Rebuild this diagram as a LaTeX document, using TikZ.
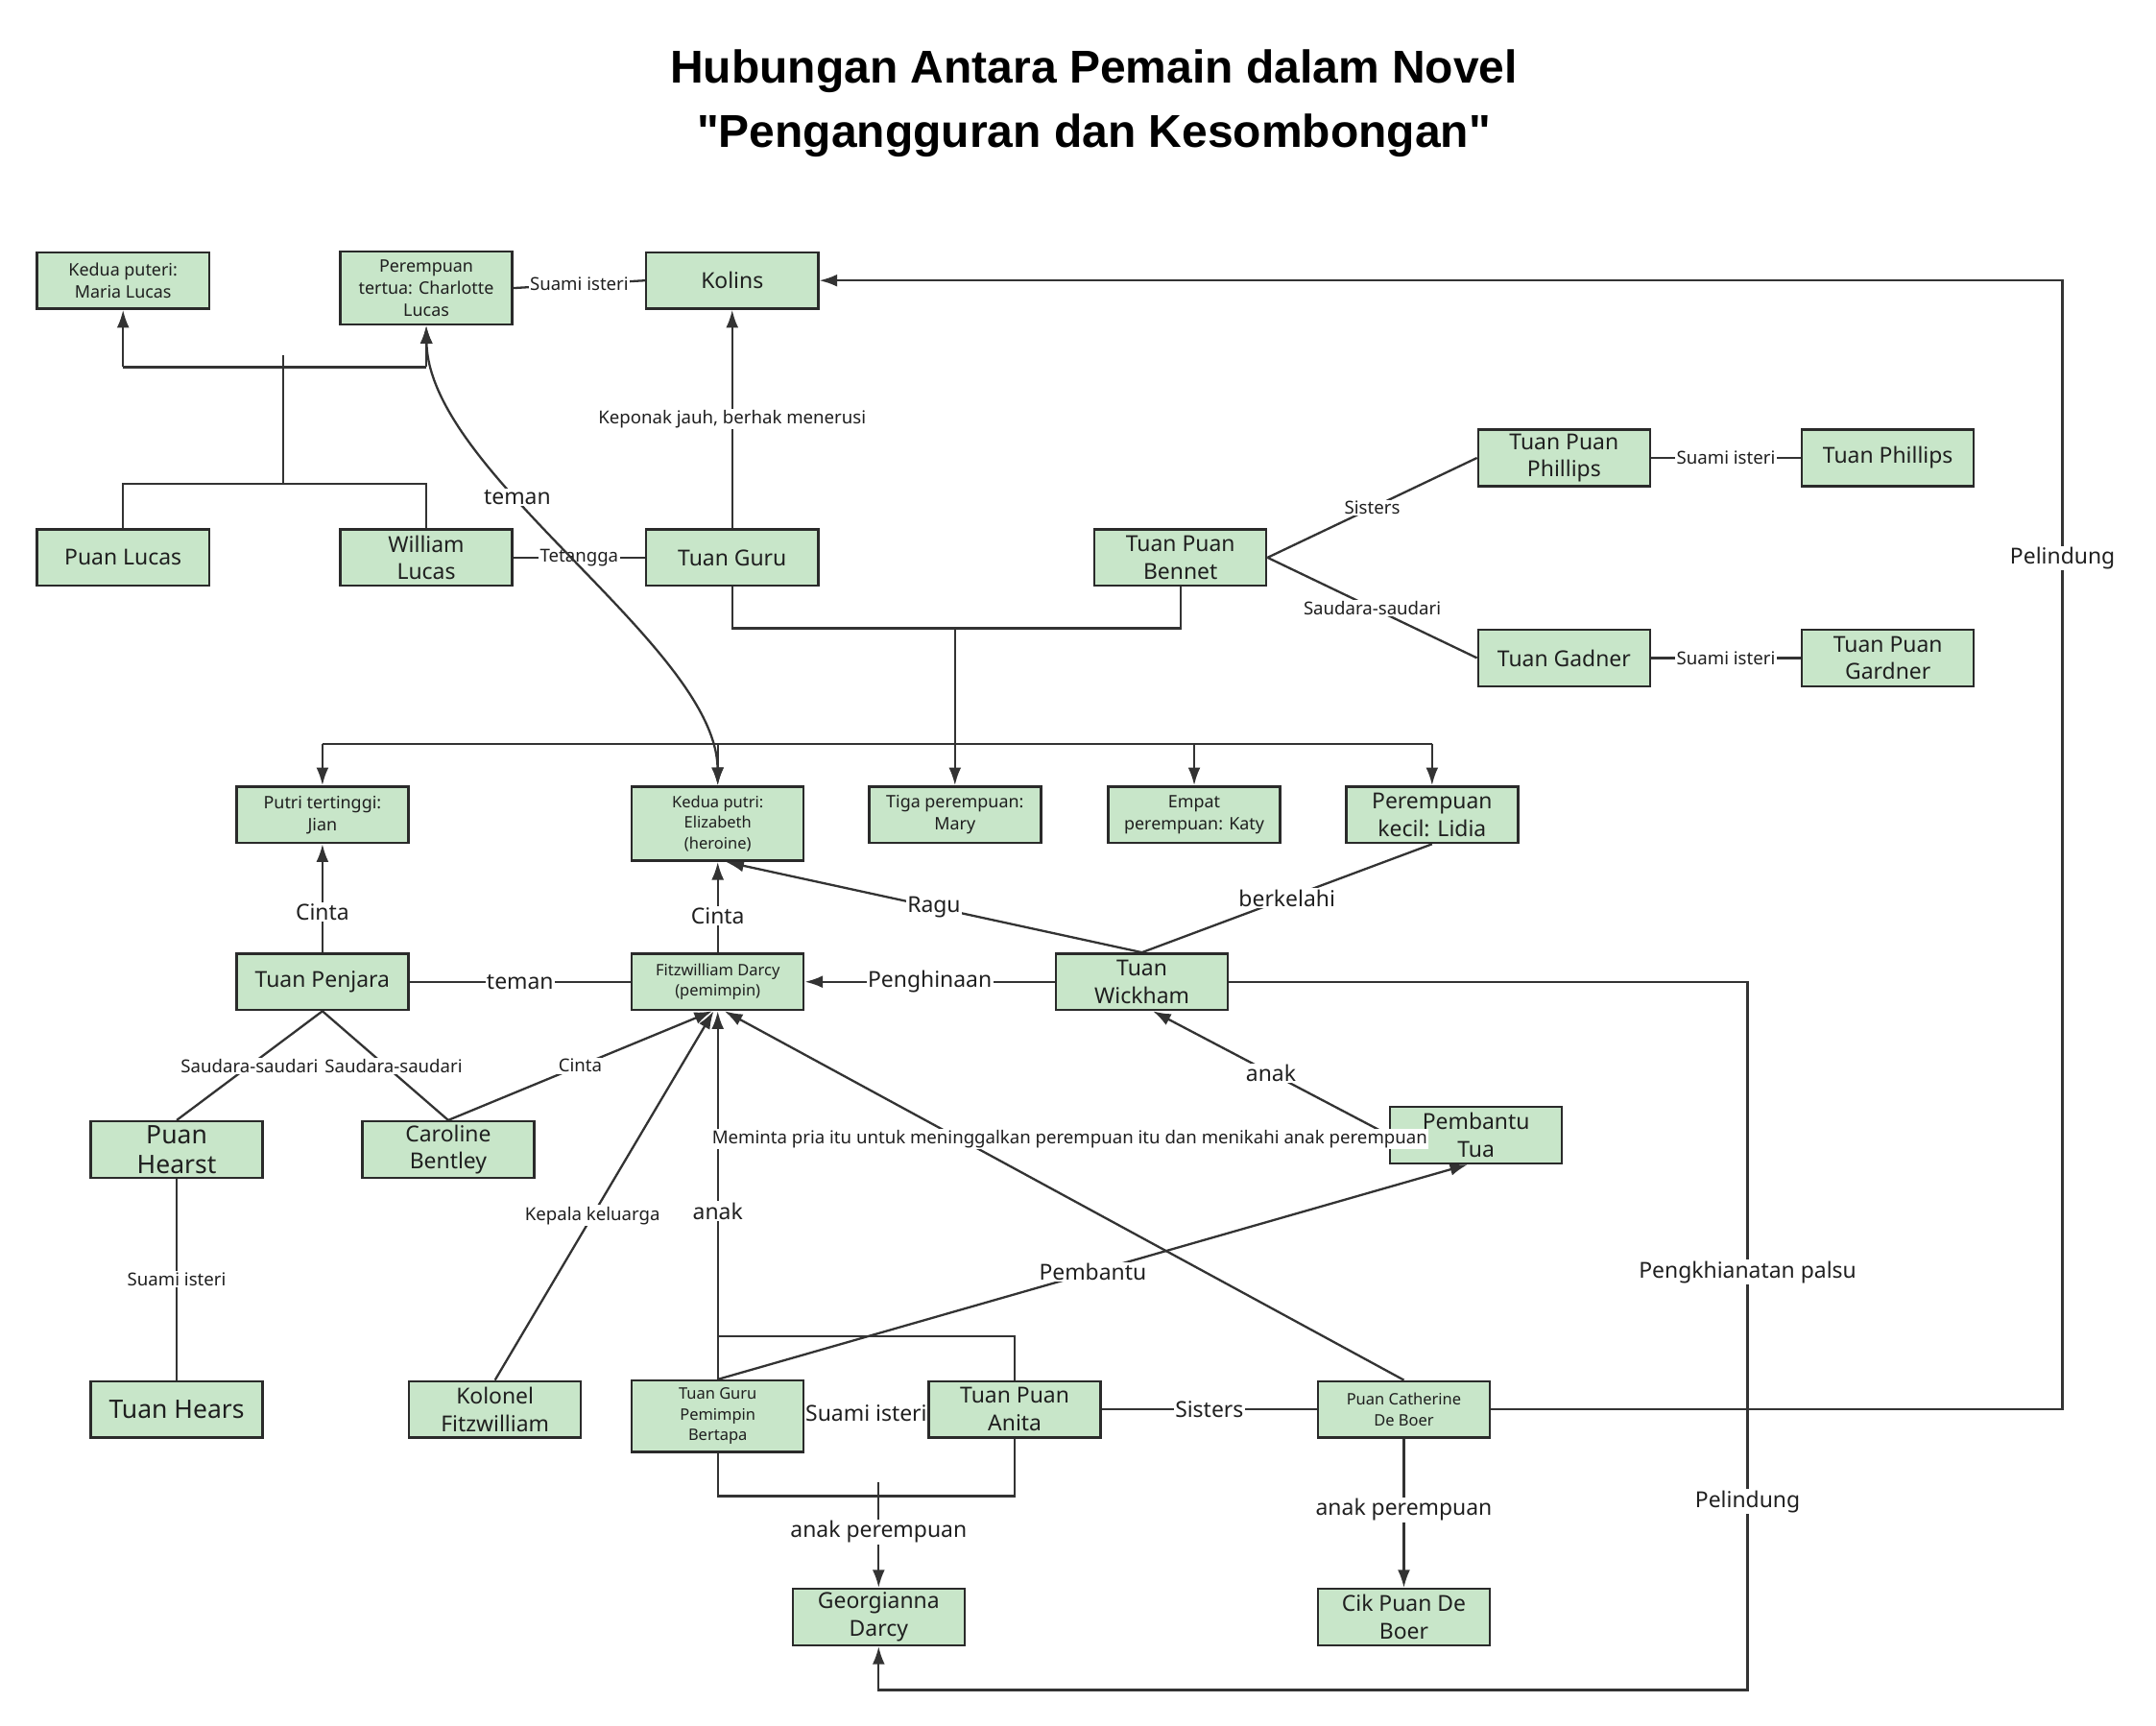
\documentclass[tikz,border=0pt]{standalone}
\usepackage{fontspec}
\setmainfont{Noto Sans}
\newfontfamily\titlefont{Liberation Sans}
\usetikzlibrary{arrows.meta}
\pgfdeclarelayer{back}
\pgfdeclarelayer{bg}
\pgfsetlayers{back,bg,main}
\definecolor{boxfill}{HTML}{C8E6C9}
\definecolor{boxline}{HTML}{2A2A2A}
\definecolor{linec}{HTML}{333333}
\definecolor{textc}{HTML}{1F1F1F}
\tikzset{
 box/.style={draw=boxline, fill=boxfill, line width=1.7pt, minimum width=125pt, minimum height=41pt, align=center, inner sep=1pt, text=textc},
 fs/.style={font=\fontsize{12.5}{16}\selectfont},
 fx/.style={font=\fontsize{11.5}{15}\selectfont},
 fm/.style={font=\fontsize{16}{20}\selectfont},
 fl/.style={font=\fontsize{18.5}{22}\selectfont},
 conn/.style={draw=linec, line width=1.6pt},
 arr/.style={conn, -{Latex[length=13pt,width=9pt]}},
 darr/.style={conn, {Latex[length=13pt,width=9pt]}-{Latex[length=13pt,width=9pt]}},
 lbs/.style={fill=white, inner sep=1pt, font=\fontsize{13}{16}\selectfont, text=textc},
 lbm/.style={fill=white, inner sep=1pt, font=\fontsize{16}{19}\selectfont, text=textc},
}
\begin{document}
\begin{tikzpicture}[x=1pt,y=-1pt]
\begin{pgfonlayer}{back}
\fill[white] (0,0) rectangle (1568,1255);
\end{pgfonlayer}
\useasboundingbox (0,0) rectangle (1568,1255);

\node[font=\titlefont\bfseries\fontsize{33.5}{47}\selectfont, align=center, text=black] (title) at (795.5,75) {Hubungan Antara Pemain dalam Novel\\\textquotedbl Pengangguran dan Kesombongan\textquotedbl};

% row 1
\node[box,fs] (maria) at (89.5,204) {Kedua puteri:\\Maria Lucas};
\node[box,fs,minimum height=53pt] (charlotte) at (310,209.5) {Perempuan\\tertua: Charlotte\\Lucas};
\node[box,fm] (kolins) at (532.5,204) {Kolins};
% row 2
\node[box,fm] (puanlucas) at (89.5,405.5) {Puan Lucas};
\node[box,fm] (william) at (310,405.5) {William\\Lucas};
\node[box,fm] (tuanguru) at (532.5,405.5) {Tuan Guru};
\node[box,fm] (bennet) at (858.5,405.5) {Tuan Puan\\Bennet};
\node[box,fm] (phillipstp) at (1137.5,333) {Tuan Puan\\Phillips};
\node[box,fm] (tuanphillips) at (1373,333) {Tuan Phillips};
\node[box,fm] (gadner) at (1137.5,478.5) {Tuan Gadner};
\node[box,fm] (gardnertp) at (1373,478.5) {Tuan Puan\\Gardner};
% daughters
\node[box,fs] (jian) at (234.5,592.5) {Putri tertinggi:\\Jian};
\node[box,fx,minimum height=54pt] (elizabeth) at (522,599) {Kedua putri:\\Elizabeth\\(heroine)};
\node[box,fs] (mary) at (694.5,592.5) {Tiga perempuan:\\Mary};
\node[box,fs] (katy) at (868.5,592.5) {Empat\\perempuan: Katy};
\node[box,fm] (lidia) at (1041.5,592.5) {Perempuan\\kecil: Lidia};
% darcy row
\node[box,fm] (penjara) at (234.5,714) {Tuan Penjara};
\node[box,fx] (darcy) at (522,714) {Fitzwilliam Darcy\\(pemimpin)};
\node[box,fm] (wickham) at (830.5,714) {Tuan\\Wickham};
% next row
\node[box,fl] (hearst) at (128.5,836) {Puan\\Hearst};
\node[box,fm] (caroline) at (326,836) {Caroline\\Bentley};
\node[box,fm] (pembantu) at (1073.5,825.5) {Pembantu\\Tua};
% lower row
\node[box,fl] (hears) at (128.5,1025) {Tuan Hears};
\node[box,fm] (kolonel) at (360,1025) {Kolonel\\Fitzwilliam};
\node[box,fx,minimum height=52pt] (gurupb) at (522,1030) {Tuan Guru\\Pemimpin\\Bertapa};
\node[box,fm] (anita) at (738,1025) {Tuan Puan\\Anita};
\node[box,fx] (catherine) at (1021,1025) {Puan Catherine\\De Boer};
% bottom
\node[box,fm] (georgianna) at (639,1176) {Georgianna\\Darcy};
\node[box,fm] (cikpuan) at (1021,1176) {Cik Puan De\\Boer};

\begin{pgfonlayer}{bg}
% Lucas family
\coordinate (lj) at (206,352);
\coordinate (ltop) at (206,258);
\coordinate (lh1) at (89.5,267);
\coordinate (lh2) at (310,267);
\draw[conn] (puanlucas.north) |- (lj) -| (william.north);
\draw[conn] (lj) -- (ltop);
\draw[conn] (lh1) -- (lh2);
\draw[arr] (lh1) -- (maria.south);
\draw[arr] (lh2) -- (charlotte.south);
\draw[conn] (charlotte.east) -- node[lbs] {Suami isteri} (kolins.west);
\draw[arr] (tuanguru.north) -- node[lbs] {Keponak jauh, berhak menerusi} (kolins.south);
\draw[conn] (william.east) -- node[lbs] {Tetangga} (tuanguru.west);
\draw[darr] (charlotte.south) .. controls (312,345) and (521,470) .. node[lbm, pos=0.37] {teman} (elizabeth.north);
% Bennet family
\coordinate (bj) at (694.5,457);
\coordinate (dh1) at (234.5,541);
\coordinate (dh2) at (1041.5,541);
\draw[conn] (tuanguru.south) |- (bj) -| (bennet.south);
\draw[arr] (bj) -- (mary.north);
\draw[conn] (dh1) -- (dh2);
\draw[arr] (dh1) -- (jian.north);
\draw[arr] (522,541) -- (elizabeth.north);
\draw[arr] (868.5,541) -- (katy.north);
\draw[arr] (dh2) -- (lidia.north);
\draw[conn] (bennet.east) -- node[lbs] {Sisters} (phillipstp.west);
\draw[conn] (bennet.east) -- node[lbs] {Saudara-saudari} (gadner.west);
\draw[conn] (phillipstp.east) -- node[lbs] {Suami isteri} (tuanphillips.west);
\draw[conn] (gadner.east) -- node[lbs] {Suami isteri} (gardnertp.west);
% Catherine -> Kolins
\draw[arr] (catherine.east) -- (1500,1025) -- node[lbm, pos=0.754] {Pelindung} (1500,204) -- (kolins.east);
% Darcy area
\draw[arr] (penjara.north) -- node[lbm, pos=0.375] {Cinta} (jian.south);
\draw[arr] (darcy.north) -- node[lbm, pos=0.4] {Cinta} (elizabeth.south);
\draw[arr] (wickham.north) -- node[lbm] {Ragu} ([xshift=6pt]elizabeth.south);
\draw[conn] (wickham.north) -- node[lbm] {berkelahi} (lidia.south);
\draw[conn] (penjara.east) -- node[lbm] {teman} (darcy.west);
\draw[arr] (wickham.west) -- node[lbm] {Penghinaan} (darcy.east);
\draw[arr] (wickham.east) -- (1271,714) -- node[lbm, pos=0.41] {Pengkhianatan palsu} node[lbm, pos=0.734] {Pelindung} (1271,1229) -- (639,1229) -- (georgianna.south);
\draw[conn] (penjara.south) -- node[lbs] {Saudara-saudari} (hearst.north);
\draw[conn] (penjara.south) -- node[lbs, xshift=6pt] {Saudara-saudari} (caroline.north);
\draw[arr] (caroline.north) -- node[lbs] {Cinta} ([xshift=-4pt]darcy.south);
\draw[conn] (hearst.south) -- node[lbs] {Suami isteri} (hears.north);
\draw[arr] (kolonel.north) -- node[lbs, pos=0.446] {Kepala keluarga} ([xshift=-3pt]darcy.south);
\draw[arr] (gurupb.north) -- node[lbm, pos=0.457] {anak} (darcy.south);
\draw[arr] (catherine.north) -- ([xshift=5pt]darcy.south);
\draw[arr] (pembantu.west) -- node[lbm] {anak} ([xshift=8pt]wickham.south);
\draw[arr] (gurupb.north) -- node[lbm] {Pembantu} ([xshift=-6pt]pembantu.south);
% Guru Pemimpin + Anita
\draw[conn] (gurupb.east) -- node[lbm] {Suami isteri} (anita.west);
\draw[conn] (gurupb.north) -- (522,972) -- (738,972) -- (anita.north);
\draw[conn] (gurupb.south) -- (522,1088) -- (738,1088) -- (anita.south);
\coordinate (gj) at (639,1078);
\draw[arr] (gj) -- node[lbm, pos=0.47] {anak perempuan} (georgianna.north);
\draw[conn] (anita.east) -- node[lbm] {Sisters} (catherine.west);
\draw[arr] (catherine.south) -- node[lbm, pos=0.477] {anak perempuan} (cikpuan.north);
\end{pgfonlayer}
\path (catherine.north) -- node[lbs, pos=0.654, xshift=80pt] {Meminta pria itu untuk meninggalkan perempuan itu dan menikahi anak perempuan} ([xshift=5pt]darcy.south);
\end{tikzpicture}
\end{document}
